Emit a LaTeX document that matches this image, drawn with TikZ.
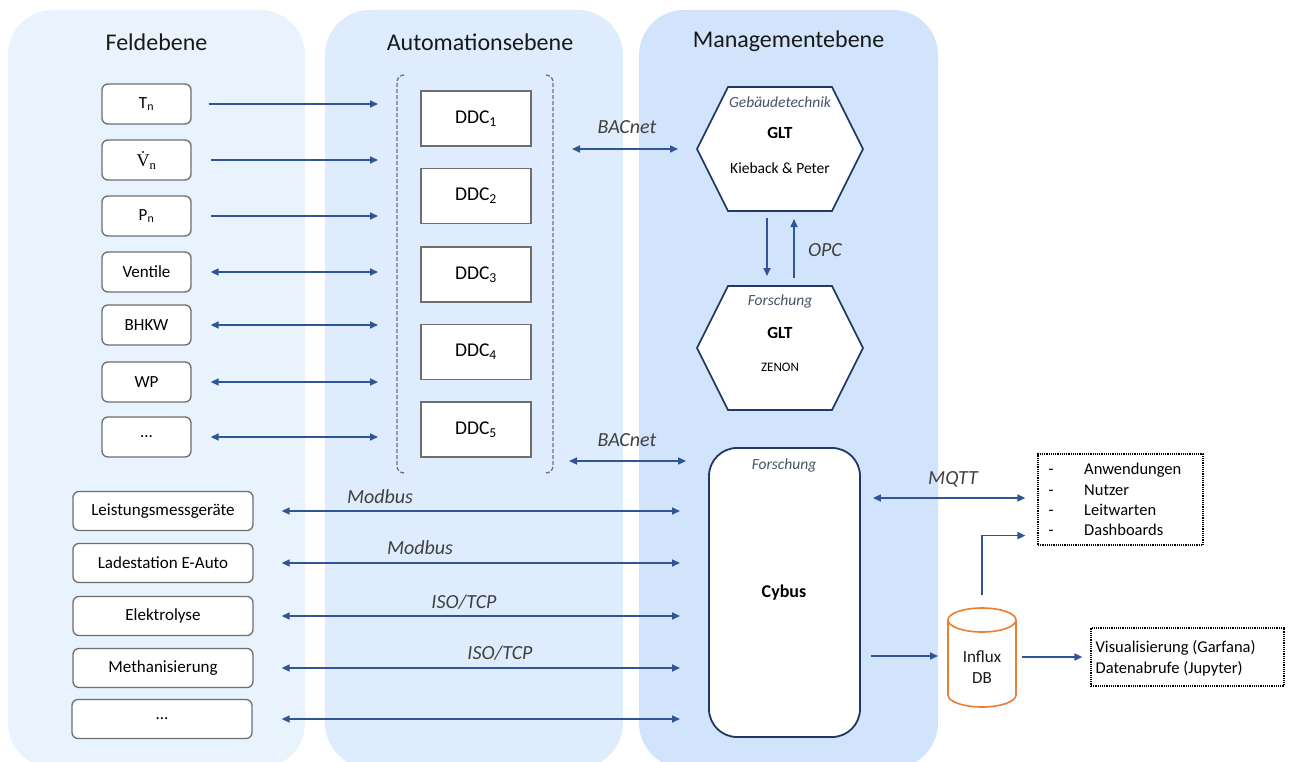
\documentclass[tikz,border=0pt]{standalone}
\usepackage[no-math]{fontspec}
\setmainfont{Carlito}
\newfontfamily\libserif{Liberation Serif}
\usetikzlibrary{arrows.meta,calc}
\definecolor{pF}{RGB}{232,243,254}
\definecolor{pA}{RGB}{222,236,253}
\definecolor{pM}{RGB}{209,228,252}
\definecolor{arrc}{RGB}{47,85,151}
\definecolor{navy}{RGB}{31,56,100}
\definecolor{lblgray}{RGB}{64,64,64}
\definecolor{subcol}{RGB}{68,84,106}
\definecolor{boxgray}{RGB}{110,110,110}
\definecolor{dborange}{RGB}{237,125,49}
\newcommand{\fs}[1]{\fontsize{#1}{#1}\selectfont}
\tikzset{
  panel/.style={fill=#1,draw=none,rounded corners=45pt},
  ttl/.style={font=\fs{24},text=black!90},
  fbox/.style={draw=boxgray,line width=1.3pt,fill=white,rounded corners=6pt,minimum width=89pt,minimum height=40pt,inner sep=0pt,font=\fs{17}},
  wbox/.style={fbox,minimum width=180pt,minimum height=39pt},
  ddc/.style={draw=boxgray,line width=1.5pt,fill=white,minimum width=110pt,minimum height=55pt,inner sep=0pt,font=\fs{19.5}},
  conn/.style={draw=arrc,line width=1.6pt,-{Triangle[length=8pt,width=7pt]}},
  biconn/.style={conn,{Triangle[length=8pt,width=7pt]}-{Triangle[length=8pt,width=7pt]}},
  proto/.style={font=\fs{20}\itshape,text=lblgray},
  hexbox/.style={minimum width=166pt,minimum height=124pt,inner sep=0pt,outer sep=0pt},
  hexline/.style={draw=navy,line width=1.6pt,fill=white,line join=miter},
  subt/.style={font=\fs{15.5}\itshape,text=subcol},
  dotbox/.style={draw=black,densely dotted,line width=1.2pt,inner sep=0pt},
  bracket/.style={draw=black!55,line width=1.3pt,dash pattern=on 4pt off 2pt},
  itemtxt/.style={font=\fs{16.5},anchor=west,inner sep=0pt},
}
\begin{document}
\begin{tikzpicture}[x=1pt,y=-1pt]
\useasboundingbox (0,0) rectangle (1292,762);
\clip (0,0) rectangle (1292,762);
% panels
\fill[panel=pF] (8,10) rectangle (305,768);
\fill[panel=pA] (325,10) rectangle (623,768);
\fill[panel=pM] (639,10) rectangle (938,768);
\node[ttl] (tF) at (156.5,42) {Feldebene};
\node[ttl] (tA) at (480,42) {Automationsebene};
\node[ttl] (tM) at (788.5,41) {Managementebene};
% field boxes
\node[fbox] (T) at (146.5,104) {T\textsubscript{n}};
\node[fbox] (V) at (146.5,160) {};
\node[inner sep=0pt,font=\libserif\fs{18},anchor=base] (vt) at (146.5,167) {V\textsubscript{n}};
\fill[black!90] ($(vt.base west)+(6.6,-15)$) circle (1.15pt);
\node[fbox] (P) at (146.5,216) {P\textsubscript{n}};
\node[fbox] (Ve) at (146.5,272) {Ventile};
\node[fbox] (B) at (146.5,325) {BHKW};
\node[fbox] (W) at (146.5,382) {WP};
\node[fbox] (D1) at (146.5,437) {...};
% wide boxes
\node[wbox] (L1) at (163,511) {Leistungsmessgeräte};
\node[wbox] (L2) at (163,563) {Ladestation E-Auto};
\node[wbox] (L3) at (163,616) {Elektrolyse};
\node[wbox] (L4) at (163,668) {Methanisierung};
\node[wbox] (L5) at (162,719) {...};
% bracket
\draw[bracket] (404,75) arc[start angle=270,end angle=180,radius=7] -- (397,466) arc[start angle=180,end angle=90,radius=7];
\draw[bracket] (546,75) arc[start angle=270,end angle=360,radius=7] -- (553,466) arc[start angle=0,end angle=90,radius=7];
% DDC
\node[ddc] (d1) at (476,118.5) {DDC\textsubscript{1}};
\node[ddc] (d2) at (476,196) {DDC\textsubscript{2}};
\node[ddc] (d3) at (476,274.5) {DDC\textsubscript{3}};
\node[ddc] (d4) at (476,352) {DDC\textsubscript{4}};
\node[ddc] (d5) at (476,429.5) {DDC\textsubscript{5}};
% field -> DDC arrows
\coordinate (dL) at (378,0);
\draw[conn] ([xshift=17pt]T.east) -- (T.east -| dL);
\draw[conn] ([xshift=19pt]V.east) -- (V.east -| dL);
\draw[conn] ([xshift=19pt]P.east) -- (P.east -| dL);
\draw[biconn] ([xshift=19pt]Ve.east) -- (Ve.east -| dL);
\draw[biconn] ([xshift=19pt]B.east) -- (B.east -| dL);
\draw[biconn] ([xshift=19pt]W.east) -- (W.east -| dL);
\draw[biconn] ([xshift=19pt]D1.east) -- (D1.east -| dL);
% hexagons
\node[hexbox] (h1) at (780,149) {};
\draw[hexline] (h1.west) -- ([xshift=31pt]h1.north west) -- ([xshift=-31pt]h1.north east) -- (h1.east) -- ([xshift=-31pt]h1.south east) -- ([xshift=31pt]h1.south west) -- cycle;
\node[subt] (h1a) at (780,102) {Gebäudetechnik};
\node[font=\fs{17}\bfseries] (h1b) at (780,133) {GLT};
\node[font=\fs{15.5}] (h1c) at (780,168) {Kieback \& Peter};
\node[hexbox] (h2) at (780,348) {};
\draw[hexline] (h2.west) -- ([xshift=31pt]h2.north west) -- ([xshift=-31pt]h2.north east) -- (h2.east) -- ([xshift=-31pt]h2.south east) -- ([xshift=31pt]h2.south west) -- cycle;
\node[subt] (h2a) at (780,301) {Forschung};
\node[font=\fs{17}\bfseries] (h2b) at (780,333) {GLT};
\node[font=\fs{13}] (h2c) at (780,367) {ZENON};
% OPC
\draw[conn] ([xshift=-13pt,yshift=-7pt]h1.south) -- ([xshift=-13pt,yshift=10pt]h2.north);
\draw[conn] ([xshift=14pt,yshift=8pt]h2.north) -- ([xshift=14pt,yshift=-8pt]h1.south);
\node[proto] (opc) at (825,250) {OPC};
% BACnet
\coordinate (bs) at (572,0);
\draw[biconn] (h1.west -| bs) -- ([xshift=-19pt]h1.west);
\node[proto] (bac1) at (627,127) {BACnet};
% Cybus
\node[draw=navy,line width=1.8pt,fill=white,rounded corners=28pt,minimum width=151pt,minimum height=289pt,inner sep=0pt] (cyb) at (784.5,592.5) {};
\node[subt] (cyba) at (784,465) {Forschung};
\node[font=\fs{18}\bfseries] (cybb) at (784,593) {Cybus};
\coordinate (b2) at (569,461);
\draw[biconn] (b2) -- ([xshift=-22pt]b2 -| cyb.west);
\node[proto] (bac2) at (627,440) {BACnet};
% field -> Cybus
\coordinate (cL) at (680,0);
\draw[biconn] ([xshift=28pt]L1.east) -- (L1.east -| cL);
\draw[biconn] ([xshift=28pt]L2.east) -- (L2.east -| cL);
\draw[biconn] ([xshift=28pt]L3.east) -- (L3.east -| cL);
\draw[biconn] ([xshift=28pt]L4.east) -- (L4.east -| cL);
\draw[biconn] ([xshift=29pt]L5.east) -- (L5.east -| cL);
\node[proto] (m1) at (380,497) {Modbus};
\node[proto] (m2) at (420,548) {Modbus};
\node[proto] (i1) at (464,602) {ISO/TCP};
\node[proto] (i2) at (500,653) {ISO/TCP};
% apps box
\node[dotbox,minimum width=165pt,minimum height=91pt] (apps) at (1120.5,499.5) {};
\node[itemtxt] (app1) at (1048.5,470) {\makebox[35.5pt][l]{-}Anwendungen};
\node[itemtxt] (app2) at (1048.5,490) {\makebox[35.5pt][l]{-}Nutzer};
\node[itemtxt] (app3) at (1048.5,510) {\makebox[35.5pt][l]{-}Leitwarten};
\node[itemtxt] (app4) at (1048.5,530) {\makebox[35.5pt][l]{-}Dashboards};
% Influx
\node[minimum width=68pt,minimum height=99pt,inner sep=0pt,outer sep=0pt] (db) at (982,657.5) {};
\draw[draw=dborange,line width=1.6pt,fill=white] (db.north west) ++(0,12) -- ++(0,75) arc[start angle=180,end angle=0,x radius=34,y radius=12] -- ++(0,-75);
\draw[draw=dborange,line width=1.6pt,fill=white] ($(db.north)+(0,12)$) ellipse[x radius=34,y radius=12];
\node[font=\fs{17},align=center,text=black!90] (dbt) at (982,667) {Influx\\[4pt]DB};
% vis box
\node[dotbox,minimum width=193pt,minimum height=58pt] (vis) at (1187.5,657) {};
\node[font=\fs{16.5},align=left,anchor=west,inner sep=0pt] (vist) at ($(vis.west)+(5,1.5)$) {Visualisierung (Garfana)\\[4pt]Datenabrufe (Jupyter)};
% connectors right
\draw[biconn] ($(cyb.east |- apps.west)+(12,-1.5)$) -- ($(apps.west)+(-12,-1.5)$);
\node[proto] (mqtt) at (953,479) {MQTT};
\draw[conn] ($(cyb.east |- db.west)+(10,-1.5)$) -- ($(db.west)+(-10,-1.5)$);
\draw[conn] ($(db.north)+(0,-13)$) |- ($(apps.south west)+(-12,-10)$);
\draw[conn] ($(db.east)+(6,-0.5)$) -- ($(vis.west)+(-8,0)$);
\end{tikzpicture}
\end{document}
